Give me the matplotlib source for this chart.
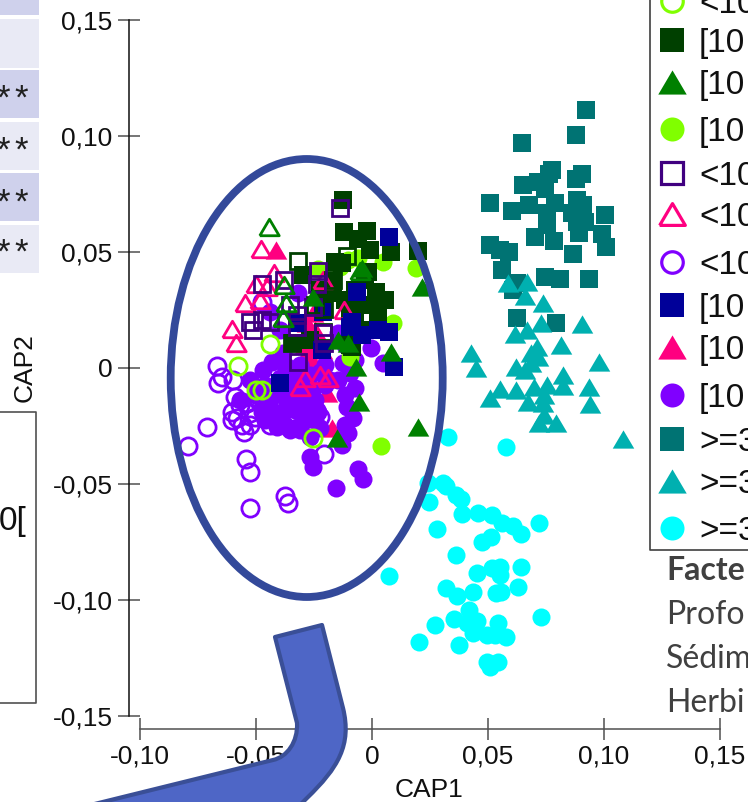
import matplotlib
matplotlib.use('Agg')
import matplotlib.pyplot as plt
from matplotlib.patches import Ellipse, PathPatch, Rectangle
from matplotlib.path import Path

# tick labels
x_ticks = [-0.10, -0.05, 0, 0.05, 0.10, 0.15]
x_labels = ['-0,10', '-0,05', '0', '0,05', '0,10', '0,15']
y_ticks = [-0.15, -0.10, -0.05, 0, 0.05, 0.10, 0.15]
y_labels = ['-0,15', '-0,10', '-0,05', '0', '0,05', '0,10', '0,15']

# >=3 group
teal_sq_x = [0.0922, 0.0881, 0.0645, 0.0777, 0.0761, 0.0904, 0.0879, 0.0650, 0.0717, 0.0747, 0.0510, 0.0678, 0.0603,
             0.0789, 0.0884, 0.0908, 0.0753, 0.0861, 0.1006, 0.0753, 0.0882, 0.0920, 0.0703, 0.0785, 0.0891, 0.0991,
             0.1007, 0.0510, 0.0552, 0.0589, 0.0866, 0.0560, 0.0626, 0.0747, 0.0810, 0.0934, 0.0609, 0.0625, 0.0792]
teal_sq_y = [0.1111, 0.1004, 0.0967, 0.0852, 0.0835, 0.0834, 0.0815, 0.0786, 0.0802, 0.0769, 0.0709, 0.0700, 0.0674,
             0.0709, 0.0723, 0.0703, 0.0666, 0.0666, 0.0660, 0.0615, 0.0629, 0.0629, 0.0565, 0.0547, 0.0579, 0.0576,
             0.0520, 0.0528, 0.0507, 0.0499, 0.0490, 0.0420, 0.0366, 0.0391, 0.0382, 0.0384, 0.0335, 0.0213, 0.0193]

teal_tri_x = [0.0588, 0.0667, 0.0661, 0.0736, 0.0728, 0.0667, 0.0615, 0.0905, 0.0816, 0.0710, 0.0684, 0.0717, 0.0425,
              0.0447, 0.0980, 0.0621, 0.0661, 0.0684, 0.0825, 0.0822, 0.0934, 0.0621, 0.0552, 0.0509, 0.0700, 0.0756,
              0.0741, 0.0674, 0.0738, 0.0940, 0.0741, 0.0721, 0.0793, 0.1082]
teal_tri_y = [0.0364, 0.0368, 0.0309, 0.0278, 0.0191, 0.0163, 0.0145, 0.0187, 0.0099, 0.0088, 0.0065, 0.0045, 0.0062,
              -0.0003, 0.0025, 0.0004, -0.0010, 0.0019, -0.0031, -0.0079, -0.0082, -0.0096, -0.0093, -0.0132, -0.0084,
              -0.0075, -0.0118, -0.0147, -0.0153, -0.0156, -0.0204, -0.0240, -0.0240, -0.0309]

cyan_x = [0.0326, 0.0576, 0.0243, 0.0305, 0.0319, 0.0362, 0.0382, 0.0246, 0.0387, 0.0456, 0.0516, 0.0559, 0.0606,
          0.0641, 0.0720, 0.0280, 0.0512, 0.0475, 0.0361, 0.0073, 0.0451, 0.0516, 0.0552, 0.0552, 0.0644, 0.0319,
          0.0368, 0.0437, 0.0534, 0.0555, 0.0629, 0.0418, 0.0353, 0.0451, 0.0408, 0.0544, 0.0730, 0.0272, 0.0437,
          0.0494, 0.0530, 0.0576, 0.0201, 0.0376, 0.0497, 0.0542, 0.0509]
cyan_y = [-0.0300, -0.0342, -0.0496, -0.0498, -0.0510, -0.0549, -0.0565, -0.0578, -0.0631, -0.0626, -0.0634, -0.0668,
          -0.0682, -0.0717, -0.0669, -0.0697, -0.0731, -0.0750, -0.0809, -0.0898, -0.0887, -0.0865, -0.0858, -0.0894,
          -0.0859, -0.0948, -0.0983, -0.0967, -0.0972, -0.0966, -0.0947, -0.1044, -0.1083, -0.1092, -0.1102, -0.1099,
          -0.1074, -0.1109, -0.1145, -0.1152, -0.1152, -0.1159, -0.1182, -0.1194, -0.1267, -0.1267, -0.1291]

# left cluster
dkgreen_sq_x = [-0.0125, -0.0119, -0.0023, -0.0059, -0.0009, 0.0081, 0.0197, -0.0131, -0.0016, -0.0296, -0.0167,
                -0.0195, 0.0017, -0.0037, 0.0027, -0.0210, -0.0095, -0.0339, -0.0088, -0.0073, -0.0030, -0.0116,
                -0.0073, 0.0000, -0.0160, -0.0224, 0.0056, -0.0267, -0.0095, -0.0052]
dkgreen_sq_y = [0.0723, 0.0586, 0.0591, 0.0553, 0.0507, 0.0497, 0.0504, 0.0450, 0.0414, 0.0400, 0.0371, 0.0321,
                0.0325, 0.0270, 0.0234, 0.0263, 0.0234, 0.0105, 0.0091, 0.0335, 0.0378, 0.0292, 0.0206, 0.0270,
                0.0456, 0.0335, 0.0292, 0.0119, 0.0098, 0.0163]

dkgreen_open_sq_x = [-0.0318, -0.0109, -0.0167, -0.0246, -0.0206, -0.0210, -0.0346]
dkgreen_open_sq_y = [0.0460, 0.0481, 0.0378, 0.0270, 0.0252, 0.0153, 0.0105]

dkgreen_open_tri_x = [-0.0443, -0.0378, -0.0371, -0.0385, -0.0052]
dkgreen_open_tri_y = [0.0608, 0.0356, 0.0278, 0.0213, 0.0418]

indigo_open_x = [-0.0139, -0.0234, -0.0236, -0.0379, -0.0473, -0.0526, -0.0475, -0.0514, -0.0440, -0.0353, -0.0325,
                 -0.0325, -0.0253, -0.0210, -0.0206, -0.0320]
indigo_open_y = [0.0688, 0.0418, 0.0361, 0.0378, 0.0361, 0.0198, 0.0206, 0.0163, 0.0198, 0.0270, 0.0227, 0.0177,
                 0.0263, 0.0148, 0.0105, 0.0023]

pink_open_x = [-0.0480, -0.0421, -0.0500, -0.0547, -0.0602, -0.0586, -0.0483, -0.0454, -0.0119, -0.0210, -0.0289,
               -0.0224, -0.0310, -0.0190]
pink_open_y = [0.0510, 0.0407, 0.0361, 0.0280, 0.0166, 0.0105, 0.0292, 0.0349, 0.0249, 0.0378, -0.0044, -0.0031,
               -0.0083, -0.0044]

pink_x = [-0.0414, -0.0281, -0.0253, -0.0267, -0.0281, -0.0253, -0.0310, -0.0267, -0.0210, -0.0195, -0.0174, -0.0246,
          -0.0289, -0.0215, -0.0259]
pink_y = [0.0507, 0.0191, 0.0234, 0.0119, 0.0062, 0.0004, -0.0039, -0.0053, -0.0017, -0.0109, -0.0261, 0.0162, 0.0098,
          0.0076, 0.0033]

navy_x = [0.0073, -0.0066, -0.0088, 0.0027, 0.0073, -0.0044, -0.0210, -0.0217, 0.0096, -0.0397, -0.0325, -0.0095]
navy_y = [0.0562, 0.0328, 0.0198, 0.0163, 0.0155, 0.0141, 0.0241, 0.0076, 0.0004, -0.0065, 0.0191, 0.0177]

green_tri_x = [-0.0044, 0.0214, 0.0082, -0.0069, -0.0055, 0.0197, -0.0152, -0.0102, -0.0145, -0.0254]
green_tri_y = [0.0428, 0.0349, 0.0069, 0.0004, -0.0147, -0.0254, -0.0304, 0.0105, 0.0119, 0.0306]

lime_x = [0.0046, 0.0190, -0.0102, -0.0138, -0.0059, -0.0234, 0.0089, -0.0095, -0.0095, 0.0039]
lime_y = [0.0457, 0.0428, 0.0464, 0.0433, 0.0472, 0.0424, 0.0191, 0.0256, 0.0047, -0.0339]

lime_open_x = [-0.0440, -0.0576, -0.0500, -0.0475, -0.0253]
lime_open_y = [0.0102, 0.0007, -0.0096, -0.0096, -0.0304]

violet_open_x = [-0.0473, -0.0669, -0.0648, -0.0665, -0.0599, -0.0713, -0.0792, -0.0543, -0.0525, -0.0375, -0.0361,
                 -0.0527, -0.0206, -0.0605, -0.0580, -0.0550, -0.0562, -0.0526, -0.0504, -0.0605, -0.0440, -0.0224,
                 -0.0591, -0.0540, -0.0425, -0.0569, -0.0491, -0.0440, -0.0526, -0.0474]
violet_open_y = [0.0284, 0.0007, -0.0039, -0.0065, -0.0053, -0.0254, -0.0336, -0.0395, -0.0451, -0.0553, -0.0585,
                 -0.0603, -0.0373, -0.0190, -0.0218, -0.0276, -0.0247, -0.0197, -0.0211, -0.0225, -0.0247, -0.0211,
                 -0.0125, -0.0153, -0.0175, -0.0161, -0.0139, -0.0182, -0.0247, -0.0118]

violet_x = [-0.0470, -0.0418, -0.0362, -0.0310, -0.0310, -0.0259, -0.0203, -0.0147, -0.0116, -0.0233, -0.0289,
            -0.0375, -0.0431, -0.0224, -0.0116, -0.0224, -0.0310, -0.0109, -0.0081, -0.0102, -0.0131, -0.0073,
            -0.0267, -0.0253, -0.0059, -0.0038, -0.0155, -0.0267, -0.0411, -0.0325, -0.0238, -0.0397, -0.0353,
            -0.0318, -0.0004, 0.0049, -0.0125, -0.0095, -0.0181, -0.0281, -0.0341, -0.0470, -0.0526, -0.0569, -0.0432,
            -0.0384, -0.0147, -0.0341, -0.0397, -0.0440, -0.0504, -0.0461, -0.0397, -0.0267, -0.0203, -0.0310, -0.0375,
            -0.0116, -0.0073, -0.0440, -0.0375, -0.0246, -0.0332, -0.0289, -0.0461, -0.0375, -0.0310, -0.0246, -0.0474,
            -0.0353]
violet_y = [-0.0139, -0.0096, -0.0075, -0.0118, -0.0182, -0.0096, -0.0075, -0.0053, -0.0118, -0.0191, -0.0225,
            -0.0182, -0.0204, -0.0260, -0.0247, -0.0019, -0.0053, -0.0168, -0.0218, -0.0283, -0.0333, -0.0089,
            -0.0384, -0.0427, -0.0437, -0.0481, -0.0517, -0.0297, -0.0254, -0.0254, -0.0182, -0.0197, -0.0153,
            0.0321, 0.0084, 0.0022, 0.0020, -0.0023, -0.0053, -0.0082, -0.0039, -0.0010, -0.0053, -0.0139, 0.0026,
            0.0063, 0.0150, 0.0106, 0.0162, 0.0241, -0.0118, -0.0075, -0.0044, -0.0031, 0.0012, 0.0012, 0.0012,
            0.0098, 0.0033, -0.0139, -0.0118, -0.0139, -0.0182, -0.0161, -0.0225, -0.0247, -0.0268, -0.0225, -0.0191,
            -0.0268]

legend_labels = ['<10', '[10', '[10', '[10', '<10', '<10', '<10', '[10', '[10', '[10', '>=3', '>=3', '>=3']
notes = ['Profo', 'Sédim', 'Herbi']

DKGREEN, GREEN, LIME = '#004000', '#008000', '#80FF00'
INDIGO, PINK, VIOLET = '#400080', '#FF0080', '#8000FF'
NAVY, TEAL, TEAL2, CYAN = '#000099', '#007373', '#00B0B0', '#00FFFF'

TRI = [(-1.12, -0.95), (1.12, -0.95), (0, 0.95), (-1.12, -0.95)]

fig = plt.figure(figsize=(7.48, 8.02), dpi=100)
plt.rcParams['font.family'] = ['Liberation Sans', 'DejaVu Sans']

# axes: x px 128.5..748, y px 0..729, same scale on both (2320 px per unit)
ax = fig.add_axes([128.5 / 748, (802 - 729) / 802, (748 - 128.5) / 748, 729 / 802])
ax.set_xlim((128.5 - 372) / 2320, (748 - 372) / 2320)
ax.set_ylim((367.7 - 729) / 2320, 367.7 / 2320)

for s in ['top', 'right']:
    ax.spines[s].set_visible(False)
ax.spines['left'].set_bounds(-0.15, 0.15)
ax.spines['bottom'].set_bounds(-0.10, 0.15)
ax.spines['left'].set_color('#101010')
ax.spines['bottom'].set_color('#505050')
ax.spines['left'].set_linewidth(1.1)
ax.spines['bottom'].set_linewidth(1.1)
ax.set_xticks(x_ticks)
ax.set_xticklabels(x_labels)
ax.set_yticks(y_ticks)
ax.set_yticklabels(y_labels)
ax.tick_params(axis='both', direction='inout', length=16, width=1.1, color='#505050', labelsize=19, pad=3.5,
               labelcolor='#101010')

S, T, C = 13, 15.5, 13
MEW = 2


def filled(x, y, marker, color, size):
    ax.plot(x, y, ls='none', marker=marker, ms=size, mfc=color, mec=color, mew=0, clip_on=False)


def hollow(x, y, marker, color, size):
    ax.plot(x, y, ls='none', marker=marker, ms=size, mfc='none', mec=color, mew=MEW, clip_on=False)


hollow(violet_open_x, violet_open_y, 'o', VIOLET, 12.4)
filled(pink_x, pink_y, TRI, PINK, T)
filled(violet_x, violet_y, 'o', VIOLET, C)
filled(lime_x, lime_y, 'o', LIME, C)
hollow(lime_open_x, lime_open_y, 'o', LIME, 12.4)
filled(dkgreen_sq_x, dkgreen_sq_y, 's', DKGREEN, S)
hollow(pink_open_x, pink_open_y, TRI, PINK, T - 1.5)
filled(navy_x, navy_y, 's', NAVY, S)
hollow(dkgreen_open_sq_x, dkgreen_open_sq_y, 's', DKGREEN, S - 2)
hollow(indigo_open_x, indigo_open_y, 's', INDIGO, S - 2)
hollow(dkgreen_open_tri_x, dkgreen_open_tri_y, TRI, GREEN, T - 1.5)
filled(green_tri_x, green_tri_y, TRI, GREEN, T)
filled(teal_sq_x, teal_sq_y, 's', TEAL, S)
filled(teal_tri_x, teal_tri_y, TRI, TEAL2, T)
filled(cyan_x, cyan_y, 'o', CYAN, C)

# overlay in picture pixels for everything pasted on top of the chart
ov = fig.add_axes([0, 0, 1, 1])
ov.set_xlim(0, 748)
ov.set_ylim(802, 0)
ov.axis('off')

ov.text(429, 790, 'CAP1', ha='center', va='center', fontsize=19, color='#101010')
ov.text(25, 368, 'CAP2', ha='center', va='center', rotation=90, fontsize=19, color='#101010')

# circled cluster
ov.add_patch(Ellipse((306.7, 378), 272, 438, fc='none', ec='#33499A', lw=5.6))

# arrow
verts = [(275, 637), (322, 625), (343, 708), (352, 745), (338, 768), (307, 798), (290, 815), (50, 815), (273, 760),
         (287, 757), (298, 742), (297, 723), (275, 637)]
codes = [Path.MOVETO, Path.LINETO, Path.LINETO, Path.CURVE4, Path.CURVE4, Path.CURVE4, Path.LINETO, Path.LINETO,
         Path.LINETO, Path.CURVE4, Path.CURVE4, Path.CURVE4, Path.CLOSEPOLY]
ov.add_patch(PathPatch(Path(verts, codes), fc='#4E66C6', ec='#3A4F97', lw=3, joinstyle='round'))

# legend box, cut by the picture edge
ov.plot([650, 650, 748], [-5, 549.5, 549.5], color='#404040', lw=1.2, clip_on=False)
rows = [1, 40, 82, 129, 173, 214, 262, 305, 347, 395, 439, 481, 528]
styles = [('o', LIME, False), ('s', DKGREEN, True), (TRI, GREEN, True), ('o', LIME, True), ('s', INDIGO, False),
          (TRI, PINK, False), ('o', VIOLET, False), ('s', NAVY, True), (TRI, PINK, True), ('o', VIOLET, True),
          ('s', TEAL, True), (TRI, TEAL2, True), ('o', CYAN, True)]
for y, (m, c, full), lab in zip(rows, styles, legend_labels):
    is_tri = m is TRI
    if full:
        ov.plot([672], [y], ls='none', marker=m, ms=20.5 if is_tri else 17.3, mfc=c, mec=c, mew=0)
    else:
        ov.plot([672], [y], ls='none', marker=m, ms=18.5 if is_tri else 15.5, mfc='none', mec=c, mew=2.3)
    ov.text(699, y + 12, lab, ha='left', va='baseline', fontsize=24, color='#101010')

# text under the legend
ov.text(666, 580, 'Facte', ha='left', va='baseline', fontsize=23, fontweight='bold', color='#404040', family='Lato')
for y, t in zip([624, 668, 712], notes):
    ov.text(666, y, t, ha='left', va='baseline', fontsize=23, color='#404040', family='Lato')

# left table pieces
cells = [(-5, 15, '#CFD1EC'), (19, 68, '#E9EAF5'), (70, 118, '#CFD1EC'), (122, 170, '#E9EAF5'), (173, 221, '#CFD1EC'),
         (225, 273, '#E9EAF5')]
for top, bottom, c in cells:
    ov.add_patch(Rectangle((-2, top), 41, bottom - top, fc=c, ec='none'))
for y in [89, 141, 193, 243]:
    for star_x in [3, 21]:
        ov.text(star_x, y + 20, '*', ha='center', va='baseline', fontsize=25, color='#202020')

ov.plot([-2, 36.5, 36.5, -2], [411.5, 411.5, 702.5, 702.5], color='#505050', lw=1.2)
ov.text(27, 530, '0[', ha='right', va='baseline', fontsize=24, color='#101010')

fig.savefig('out.png', dpi=100)
